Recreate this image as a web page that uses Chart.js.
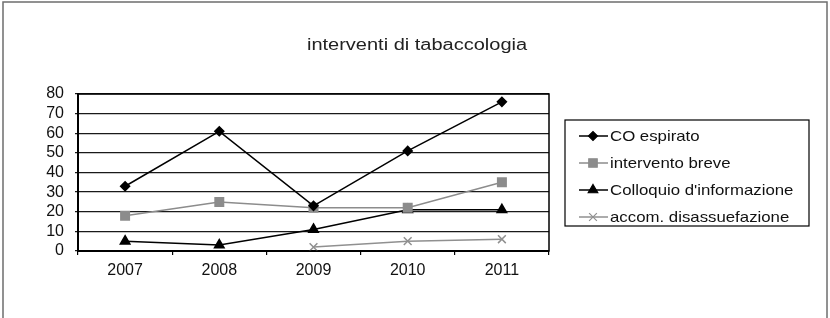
<!DOCTYPE html>
<html>
<head>
<meta charset="utf-8">
<script src="https://cdn.jsdelivr.net/npm/chart.js@4"></script>
<style>
  html, body { margin: 0; padding: 0; background: #fff; }
</style>
</head>
<body>
<canvas id="chart" width="830" height="318"></canvas>
<script>
// data
const years = ['2007', '2008', '2009', '2010', '2011'];
const coEspirato = [33, 61, 23, 51, 76];
const interventoBreve = [18, 25, 22, 22, 35];
const colloquioInfo = [5, 3, 11, 21, 21];
const accomDisassuefazione = [null, null, 2, 5, 6];
const seriesNames = ['CO espirato', 'intervento breve', "Colloquio d'informazione", 'accom. disassuefazione'];
const titleText = 'interventi di tabaccologia';
const yMin = 0, yMax = 80, yStep = 10;

const FONT = '"Liberation Sans", Arial, Helvetica, sans-serif';

// the original picture is a bit stretched sideways, so text drawn here is widened too
function wideText(ctx, text, x, y, stretch) {
    ctx.save();
    ctx.translate(x, y);
    ctx.scale(stretch, 1);
    ctx.fillText(text, 0, 0);
    ctx.restore();
}

// title, legend box, outer frame and plot frame
const framePlugin = {
    id: 'frame',
    afterDraw(chart) {
        const ctx = chart.ctx;
        const area = chart.chartArea;
        ctx.save();

        // outer frame
        ctx.strokeStyle = '#6e6e6e';
        ctx.lineWidth = 1.5;
        ctx.strokeRect(3, 2, 824, 330);

        // plot frame
        ctx.strokeStyle = '#000';
        ctx.lineWidth = 1.5;
        ctx.strokeRect(area.left, area.top, area.right - area.left, area.bottom - area.top);

        // title
        ctx.fillStyle = '#222';
        ctx.font = '16px ' + FONT;
        ctx.textAlign = 'center';
        ctx.textBaseline = 'middle';
        wideText(ctx, titleText, 417, 46, 1.25);

        // legend
        ctx.lineWidth = 1.2;
        ctx.strokeStyle = '#000';
        ctx.strokeRect(565, 120, 244, 106);
        ctx.font = '15px ' + FONT;
        ctx.textAlign = 'left';
        chart.data.datasets.forEach((ds, i) => {
            const y = 136 + i * 27;
            ctx.strokeStyle = ds.borderColor;
            ctx.lineWidth = ds.borderWidth;
            ctx.beginPath();
            ctx.moveTo(579, y);
            ctx.lineTo(608, y);
            ctx.stroke();
            ctx.fillStyle = ds.pointBackgroundColor;
            ctx.strokeStyle = ds.pointBorderColor;
            ctx.lineWidth = 1.2;
            Chart.helpers.drawPoint(ctx, {
                pointStyle: ds.pointStyle,
                radius: ds.pointRadius,
                rotation: 0,
                borderWidth: 1.2
            }, 593, y);
            ctx.fillStyle = '#111';
            wideText(ctx, seriesNames[i], 610, y + 1, 1.12);
        });
        ctx.restore();
    }
};

const ctx = document.getElementById('chart').getContext('2d');
const chart = new Chart(ctx, {
    type: 'line',
    data: {
        labels: years,
        datasets: [
            {
                label: seriesNames[0],
                data: coEspirato,
                borderColor: '#000',
                borderWidth: 1.5,
                pointStyle: 'rectRot',
                pointRadius: 4.5,
                pointBackgroundColor: '#000',
                pointBorderColor: '#000'
            },
            {
                label: seriesNames[1],
                data: interventoBreve,
                borderColor: '#8c8c8c',
                borderWidth: 1.5,
                pointStyle: 'rect',
                pointRadius: 6,
                pointBackgroundColor: '#8c8c8c',
                pointBorderColor: '#8c8c8c'
            },
            {
                label: seriesNames[2],
                data: colloquioInfo,
                borderColor: '#000',
                borderWidth: 1.5,
                pointStyle: 'triangle',
                pointRadius: 5.5,
                pointBackgroundColor: '#000',
                pointBorderColor: '#000'
            },
            {
                label: seriesNames[3],
                data: accomDisassuefazione,
                borderColor: '#909090',
                borderWidth: 1.5,
                pointStyle: 'crossRot',
                pointRadius: 5.5,
                pointBackgroundColor: '#909090',
                pointBorderColor: '#909090',
                pointBorderWidth: 1.5
            }
        ]
    },
    options: {
        responsive: false,
        animation: false,
        spanGaps: false,
        layout: { padding: { left: 0, top: 94, right: 281, bottom: 37 } },
        plugins: {
            legend: { display: false },
            title: { display: false },
            tooltip: { enabled: false }
        },
        scales: {
            x: {
                offset: true,
                afterFit: (scale) => { scale.height = 30; },
                grid: {
                    offset: true,
                    drawOnChartArea: false,
                    drawTicks: true,
                    tickLength: 4,
                    color: '#000',
                    lineWidth: 1.2
                },
                border: { color: '#000', width: 2 },
                ticks: {
                    color: '#111',
                    padding: 6,
                    font: { family: FONT, size: 16 }
                }
            },
            y: {
                min: yMin,
                max: yMax,
                afterFit: (scale) => { scale.width = 78; },
                grid: {
                    color: '#1a1a1a',
                    lineWidth: 1.3,
                    tickLength: 3
                },
                border: { color: '#000', width: 2 },
                ticks: {
                    stepSize: yStep,
                    autoSkip: false,
                    color: '#111',
                    padding: 11,
                    font: { family: FONT, size: 16 }
                }
            }
        }
    },
    plugins: [framePlugin]
});
</script>
</body>
</html>
